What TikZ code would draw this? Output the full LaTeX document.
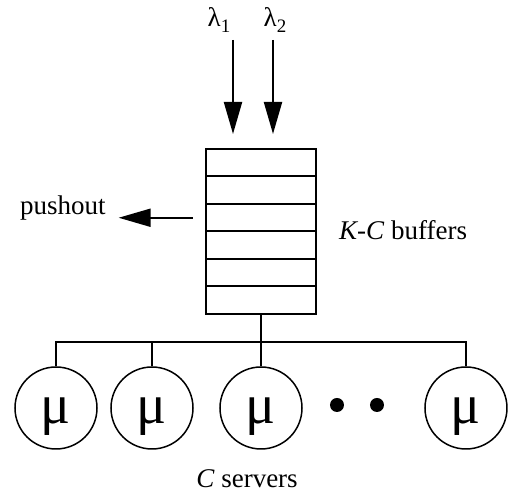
\documentclass[tikz,border=0pt]{standalone}
\usepackage{fontspec}
\setmainfont{Liberation Serif}
\usetikzlibrary{arrows.meta,calc}
\tikzset{
  cell/.style={draw, line width=1pt, minimum width=55pt, minimum height=13.75pt, inner sep=0pt},
  server/.style={draw, circle, line width=0.75pt, minimum size=41pt, inner sep=0pt,
    font=\fontsize{28}{28}\selectfont, text height=16pt, text depth=0pt},
  blob/.style={fill, circle, minimum size=7pt, inner sep=0pt},
  arr/.style={line width=1pt, -{Triangle[length=16pt,width=9pt]}},
  bus/.style={line width=0.75pt}
}
\newcommand{\lam}[1]{λ\raisebox{-3pt}{\fontsize{9.5}{10}\selectfont #1}}
\begin{document}
\begin{tikzpicture}[x=0.5pt, y=-0.5pt, font=\fontsize{13.5}{16}\selectfont]
    \useasboundingbox (0,0) rectangle (516,497);
    \foreach \i in {1,...,6}
        \node[cell] (r\i) at (261,{135.25+27.5*\i}) {};
    \node[anchor=base] (lam1) at (219,27) {\lam{1}};
    \node[anchor=base] (lam2) at (275,27) {\lam{2}};
    \coordinate (a1) at (233,40);
    \coordinate (a2) at (273,40);
    \draw[arr, shorten >=7pt] (a1) -- (a1 |- r1.north);
    \draw[arr, shorten >=7pt] (a2) -- (a2 |- r1.north);
    \node[anchor=base west] (push) at (13,215) {pushout};
    \draw[arr, shorten >=3pt] ([xshift=-6pt]r3.west) -- (push.east |- r3.west);
    \node[anchor=base west] (kc) at (332,240) {\textit{K-C} buffers};
    \node[server] (s1) at (56,408) {μ};
    \node[server] (s2) at (152,408) {μ};
    \node[server] (s3) at (261,408) {μ};
    \node[server] (s4) at (466,408) {μ};
    \node[blob] (d1) at (337,405) {};
    \node[blob] (d2) at (377,405) {};
    \coordinate (bus) at (261,342);
    \draw[bus] (s1.north) -- (s1 |- bus) -- (s4 |- bus) -- (s4.north);
    \draw[bus] (s2.north) -- (s2 |- bus);
    \draw[bus] (r6.south) -- (s3.north);
    \node[anchor=base] (cs) at (247,488) {\textit{C} servers};
\end{tikzpicture}
\end{document}
